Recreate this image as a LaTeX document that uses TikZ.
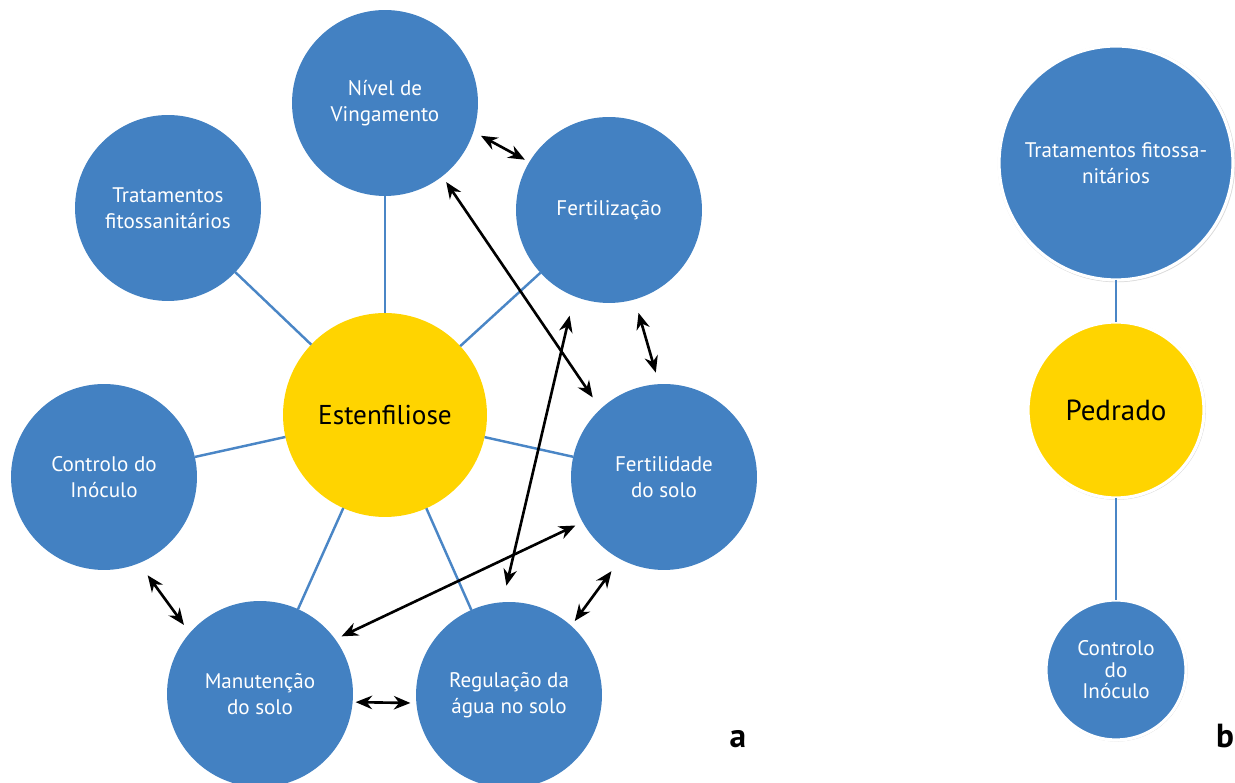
\documentclass[tikz,border=0pt]{standalone}
\usepackage{fontspec}
\setmainfont{PT Sans}
\usetikzlibrary{arrows.meta,shadows}

\definecolor{azul}{RGB}{67,129,194}
\definecolor{amarelo}{RGB}{255,212,0}
\definecolor{linha}{RGB}{74,134,198}

\begin{document}
\begin{tikzpicture}[x=0.02cm,y=0.02cm,
            bola/.style={circle,fill=azul,text=white,minimum size=3.72cm,inner sep=0pt,outer sep=0pt,align=center,font=\fontsize{12}{14.7}\selectfont},
            centro/.style={bola,fill=amarelo,text=black,minimum size=4.08cm,font=\fontsize{15.5}{18}\selectfont},
            borda/.style={draw=white,line width=1.8pt,drop shadow={shadow xshift=0.3pt,shadow yshift=-0.3pt,shadow scale=1.015,opacity=0.3}},
            liga/.style={draw=linha,line width=1.4pt},
            seta/.style={{Stealth[length=0.33cm,width=0.27cm]}-{Stealth[length=0.33cm,width=0.27cm]},line width=1.5pt},
            letra/.style={font=\fontsize{19}{22}\selectfont\bfseries,anchor=base}]
            \useasboundingbox (0,0) rectangle (1235,783);

            \node[bola] (niv) at (385,680) {Nível de\\Vingamento};
            \node[bola] (trat) at (168,575) {Tratamentos\\fitossanitários};
            \node[bola] (fert) at (609,573) {Fertilização};
            \node[centro] (est) at (385,368) {Estenfiliose};
            \node[bola] (ctrl) at (104,306) {Controlo do\\Inóculo};
            \node[bola] (fsol) at (664,306) {Fertilidade\\do solo};
            \node[bola] (man) at (260,89) {Manutenção\\do solo};
            \node[bola] (reg) at (509,88) {Regulação da\\água no solo};

            \draw[liga] (est) -- (niv);
            \draw[liga] (est) -- (trat);
            \draw[liga] (est) -- (fert);
            \draw[liga] (est) -- (ctrl);
            \draw[liga] (est) -- (fsol);
            \draw[liga] (est) -- (man);
            \draw[liga] (est) -- (reg);

            \draw[seta,shorten <=8.5*0.02cm,shorten >=5*0.02cm] (niv.-18) -- (fert.149);
            \draw[seta,shorten <=7*0.02cm,shorten >=14*0.02cm] (niv.-52) -- (fsol.133);
            \draw[seta,shorten <=14*0.02cm,shorten >=12*0.02cm] (fert.-74) -- (fsol.93);
            \draw[seta,shorten <=20*0.02cm,shorten >=17*0.02cm] (fert.-112) -- (reg.94);
            \draw[seta,shorten <=8*0.02cm,shorten >=7*0.02cm] (fsol.-151) -- (man.36);
            \draw[seta,shorten <=15*0.02cm,shorten >=6*0.02cm] (fsol.-118) -- (reg.48);
            \draw[seta,shorten <=15*0.02cm,shorten >=10*0.02cm] (ctrl.-68) -- (man.139);
            \draw[seta,shorten <=3*0.02cm,shorten >=6*0.02cm] (man.-5) -- (reg.-175);

            \node[letra] (la) at (738,35) {a};

            \node[bola,borda,minimum size=4.68cm] (trb) at (1116,620) {Tratamentos fitossa-\\nitários};
            \node[centro,borda,minimum size=3.52cm,font=\fontsize{16.5}{19}\selectfont] (ped) at (1116,373) {Pedrado};
            \node[bola,borda,minimum size=2.8cm,font=\fontsize{12}{12.2}\selectfont] (ctb) at (1116,113) {Controlo\\do\\Inóculo};

            \draw[liga,line width=1.6pt] (trb) -- (ped);
            \draw[liga,line width=1.6pt] (ped) -- (ctb);

            \node[letra] (lb) at (1225,35) {b};
        \end{tikzpicture}
\end{document}
